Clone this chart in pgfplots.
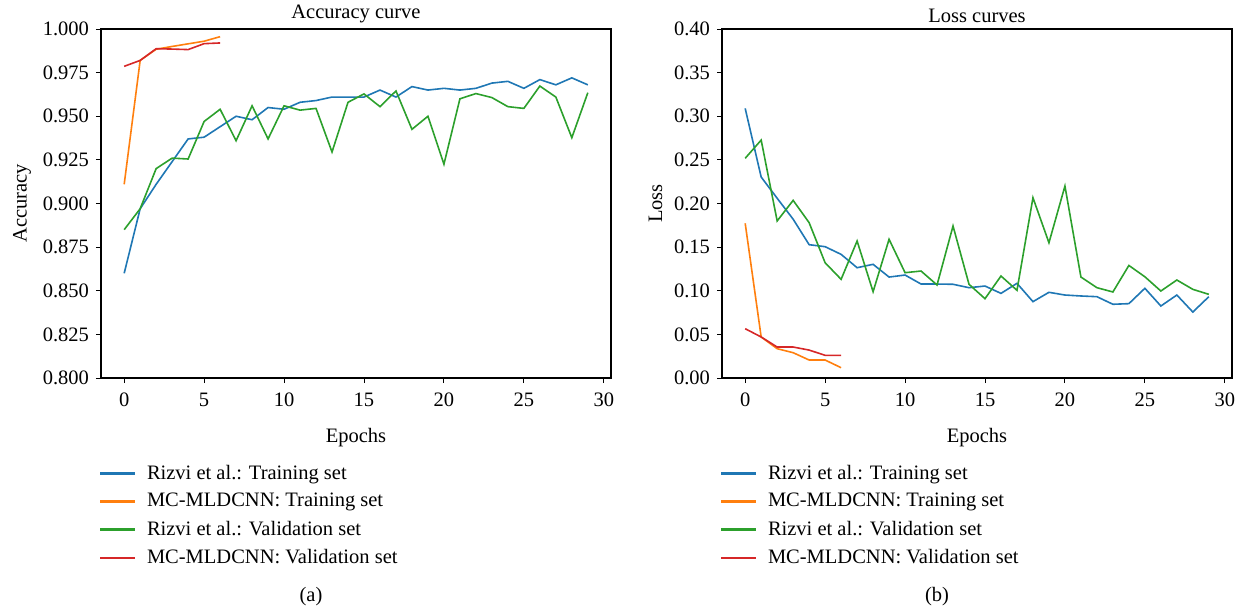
\documentclass[border=0pt]{standalone}
\usepackage{fontspec}
\setmainfont{Liberation Serif}
\usepackage{pgfplots}
\pgfplotsset{compat=1.18}
\definecolor{tblue}{HTML}{1F77B4}
\definecolor{torange}{HTML}{FF7F0E}
\definecolor{tgreen}{HTML}{2CA02C}
\definecolor{tred}{HTML}{D62728}
\pgfplotsset{
  ser/.style={#1, line width=1.6pt, no markers},
  common/.style={
    scale only axis, width=510pt, height=349pt,
    xmin=-1.45, xmax=30.45, xtick={0,5,...,30},
    tick align=outside, tick pos=left,
    major tick length=5pt,
    axis line style={line width=1.1pt},
    every tick/.style={black, line width=0.9pt},
    /pgf/number format/assume math mode=true,
    xlabel={Epochs},
    title style={yshift=-7pt},
    xlabel style={yshift=-8pt},
    xticklabel style={yshift=-3pt},
    ylabel style={yshift=-2pt},
    legend cell align=left,
    legend style={draw=none, fill=none, at={(-0.01,-0.237)}, anchor=north west, row sep=7pt},
    legend image code/.code={\draw[mark repeat=2,mark phase=2,##1,line width=2.2pt] plot coordinates {(0pt,0pt) (17.5pt,0pt) (35pt,0pt)}; \path (44pt,0pt);},
  }
}
\begin{document}
\fontsize{20.5}{24}\selectfont
\begin{tikzpicture}[x=1pt,y=1pt]
\path[use as bounding box] (0,0) rectangle (1245,608);
\begin{axis}[common, at={(101pt,230pt)}, anchor=south west,
  ymin=0.8, ymax=1.0, ytick={0.8,0.825,...,1.0001},
  yticklabel style={/pgf/number format/.cd, fixed, fixed zerofill, precision=3},
  ylabel={Accuracy}, title={Accuracy curve}]
\addplot[ser=tblue] coordinates {(0,0.860)(1,0.897)(2,0.911)(3,0.924)(4,0.937)(5,0.938)(6,0.944)(7,0.950)(8,0.948)(9,0.955)(10,0.954)(11,0.958)(12,0.959)(13,0.961)(14,0.961)(15,0.961)(16,0.965)(17,0.961)(18,0.967)(19,0.965)(20,0.966)(21,0.965)(22,0.966)(23,0.969)(24,0.970)(25,0.966)(26,0.971)(27,0.968)(28,0.972)(29,0.968)};
\addlegendentry{Rizvi et al.: Training set}
\addplot[ser=torange] coordinates {(0,0.911)(1,0.982)(2,0.9884)(3,0.990)(4,0.9915)(5,0.993)(6,0.9956)};
\addlegendentry{MC-MLDCNN: Training set}
\addplot[ser=tgreen] coordinates {(0,0.885)(1,0.897)(2,0.920)(3,0.926)(4,0.9255)(5,0.947)(6,0.954)(7,0.936)(8,0.956)(9,0.937)(10,0.956)(11,0.9535)(12,0.9545)(13,0.9295)(14,0.958)(15,0.9628)(16,0.9555)(17,0.9645)(18,0.9425)(19,0.950)(20,0.9225)(21,0.960)(22,0.963)(23,0.9607)(24,0.9555)(25,0.9545)(26,0.9673)(27,0.961)(28,0.9377)(29,0.9635)};
\addlegendentry{Rizvi et al.: Validation set}
\addplot[ser=tred] coordinates {(0,0.9786)(1,0.982)(2,0.9887)(3,0.9885)(4,0.9882)(5,0.9916)(6,0.992)};
\addlegendentry{MC-MLDCNN: Validation set}
\end{axis}
\begin{axis}[common, at={(722pt,230pt)}, anchor=south west,
  ymin=0, ymax=0.4, ytick={0,0.05,...,0.4001},
  yticklabel style={/pgf/number format/.cd, fixed, fixed zerofill, precision=2},
  ylabel={Loss}, title={Loss curves}]
\addplot[ser=tblue] coordinates {(0,0.309)(1,0.2303)(2,0.206)(3,0.182)(4,0.1528)(5,0.1505)(6,0.1417)(7,0.1264)(8,0.1303)(9,0.1157)(10,0.118)(11,0.1077)(12,0.1077)(13,0.1074)(14,0.1035)(15,0.1054)(16,0.097)(17,0.1085)(18,0.0875)(19,0.0982)(20,0.0951)(21,0.094)(22,0.0932)(23,0.0845)(24,0.0852)(25,0.1028)(26,0.0825)(27,0.0951)(28,0.0756)(29,0.0932)};
\addlegendentry{Rizvi et al.: Training set}
\addplot[ser=torange] coordinates {(0,0.1773)(1,0.047)(2,0.0336)(3,0.029)(4,0.0206)(5,0.0206)(6,0.0118)};
\addlegendentry{MC-MLDCNN: Training set}
\addplot[ser=tgreen] coordinates {(0,0.2518)(1,0.2727)(2,0.180)(3,0.2036)(4,0.178)(5,0.1321)(6,0.1131)(7,0.157)(8,0.0989)(9,0.159)(10,0.1207)(11,0.1226)(12,0.1066)(13,0.1742)(14,0.1074)(15,0.0909)(16,0.1169)(17,0.1005)(18,0.2066)(19,0.155)(20,0.220)(21,0.1157)(22,0.1035)(23,0.0986)(24,0.129)(25,0.116)(26,0.0997)(27,0.1123)(28,0.1016)(29,0.0959)};
\addlegendentry{Rizvi et al.: Validation set}
\addplot[ser=tred] coordinates {(0,0.0565)(1,0.047)(2,0.0355)(3,0.0355)(4,0.032)(5,0.026)(6,0.026)};
\addlegendentry{MC-MLDCNN: Validation set}
\end{axis}
\node at (311,11) {(a)};
\node at (937,11) {(b)};
\end{tikzpicture}
\end{document}
